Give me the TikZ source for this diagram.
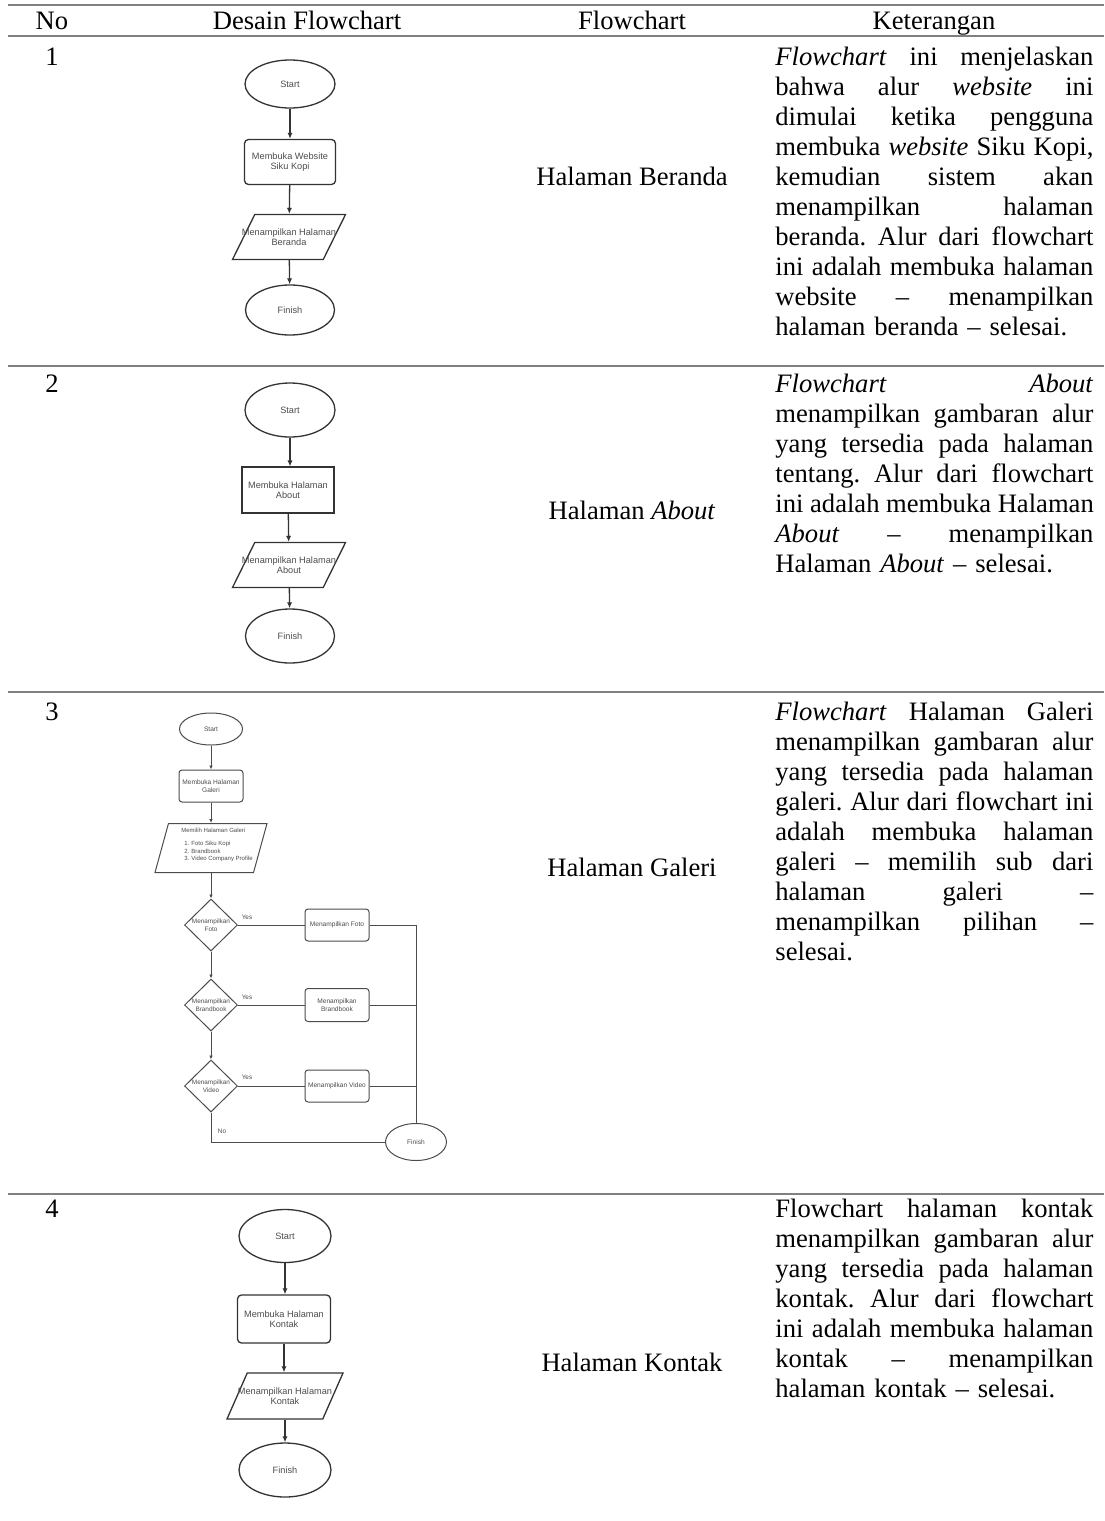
\documentclass[tikz,border=0pt]{standalone}
\usepackage{fontspec}
\setmainfont{Liberation Serif}
\newfontfamily\fcfont{Liberation Sans}
\usetikzlibrary{shapes.geometric,arrows.meta}
\newcommand\jline[1]{\makebox[159pt][s]{\spaceskip=0.25em plus 1fil\relax\xspaceskip=0.25em plus 1fil\relax #1}}
\newcommand\ketfont{\fontsize{13.3}{15}\selectfont\frenchspacing}
\tikzset{
  tbl/.style={font=\fontsize{13.3}{15}\selectfont, inner sep=0},
  ket/.style={font=\ketfont, inner sep=0, anchor=base west, text width=159pt, align=left},
  hrule/.style={line width=1pt, draw=black!50},
  fc/.style={draw=black!80, line width=0.65pt, align=center, inner sep=0,
    font=\fcfont\fontsize{4.6}{5.1}\selectfont, text=black!70},
  fcs/.style={draw=black!70, line width=0.5pt, align=center, inner sep=0,
    font=\fcfont\fontsize{3.3}{3.75}\selectfont, text=black!70},
  ftxt/.style={align=center, inner sep=0, font=\fcfont\fontsize{4.6}{5.1}\selectfont, text=black!70},
  ftxts/.style={align=center, inner sep=0, font=\fcfont\fontsize{3.2}{3.75}\selectfont, text=black!70},
  term/.style={ellipse},
  proc/.style={rectangle, rounded corners=2pt},
  io/.style={trapezium, trapezium left angle=72, trapezium right angle=108, trapezium stretches=true, inner sep=1pt},
  arr/.style={draw=black!80, line width=0.65pt, -{Latex[length=3pt,width=2.6pt]}},
  arrs/.style={draw=black!70, line width=0.5pt, -{Latex[length=2pt,width=1.8pt]}},
  lns/.style={draw=black!70, line width=0.5pt},
}
\begin{document}
\begin{tikzpicture}[x=0.5pt,y=-0.5pt]
\useasboundingbox (0,0) rectangle (1104,1521);
% table rules
\draw[hrule] (8,5) -- (1104,5);
\draw[hrule] (8,36) -- (1104,36);
\draw[hrule] (8,366) -- (1104,366);
\draw[hrule] (8,692) -- (1104,692);
\draw[hrule] (8,1194) -- (1104,1194);
% header
\node[tbl, anchor=base] (hno) at (52,29) {No};
\node[tbl, anchor=base] (hdes) at (307,29) {Desain Flowchart};
\node[tbl, anchor=base] (hfc) at (632,29) {Flowchart};
\node[tbl, anchor=base] (hket) at (934,29) {Keterangan};
% numbers
\node[tbl, anchor=base] (n1) at (52,65) {1};
\node[tbl, anchor=base] (n2) at (52,392) {2};
\node[tbl, anchor=base] (n3) at (52,720) {3};
\node[tbl, anchor=base] (n4) at (52,1217) {4};
% middle column
\node[tbl, anchor=base] (m1) at (632,185) {Halaman Beranda};
\node[tbl, anchor=base] (m2) at (632,519) {Halaman \textit{About}};
\node[tbl, anchor=base] (m3) at (632,876) {Halaman Galeri};
\node[tbl, anchor=base] (m4) at (632,1371) {Halaman Kontak};
% keterangan
\node[ket] (k1) at (775,65) {\jline{\textit{Flowchart} ini menjelaskan}\\
\jline{bahwa alur \textit{website} ini}\\
\jline{dimulai ketika pengguna}\\
\jline{membuka \textit{website} Siku Kopi,}\\
\jline{kemudian sistem akan}\\
\jline{menampilkan halaman}\\
\jline{beranda. Alur dari flowchart}\\
\jline{ini adalah membuka halaman}\\
\jline{website – menampilkan}\\
halaman beranda – selesai.};
\node[ket] (k2) at (775,392) {\jline{\textit{Flowchart} \textit{About}}\\
\jline{menampilkan gambaran alur}\\
\jline{yang tersedia pada halaman}\\
\jline{tentang. Alur dari flowchart}\\
\jline{ini adalah membuka Halaman}\\
\jline{\textit{About} – menampilkan}\\
Halaman \textit{About} – selesai.};
\node[ket] (k3) at (775,720) {\jline{\textit{Flowchart} Halaman Galeri}\\
\jline{menampilkan gambaran alur}\\
\jline{yang tersedia pada halaman}\\
\jline{galeri. Alur dari flowchart ini}\\
\jline{adalah membuka halaman}\\
\jline{galeri – memilih sub dari}\\
\jline{halaman galeri –}\\
\jline{menampilkan pilihan –}\\
selesai.};
\node[ket] (k4) at (775,1217) {\jline{Flowchart halaman kontak}\\
\jline{menampilkan gambaran alur}\\
\jline{yang tersedia pada halaman}\\
\jline{kontak. Alur dari flowchart}\\
\jline{ini adalah membuka halaman}\\
\jline{kontak – menampilkan}\\
halaman kontak – selesai.};

% ---------- flowchart 1
\node[fc, term, minimum width=45pt, minimum height=24pt] (s1) at (290,84) {Start};
\node[fc, proc, minimum width=45.5pt, minimum height=22.5pt] (r1) at (290,162) {Membuka Website\\Siku Kopi};
\node[fc, io, minimum width=56.5pt, minimum height=22.5pt] (p1) at (289,237) {};
\node[ftxt] (p1t) at (p1.center) {Menampilkan Halaman\\Beranda};
\node[fc, term, minimum width=44.5pt, minimum height=25pt] (f1) at (290,310) {Finish};
\draw[arr] (s1) -- (r1);
\draw[arr] (r1) -- (p1);
\draw[arr] (p1) -- (f1);

% ---------- flowchart 2
\node[fc, term, minimum width=45pt, minimum height=27pt] (s2) at (290,410) {Start};
\node[fc, rectangle, line width=0.55pt, minimum width=46pt, minimum height=23pt] (r2) at (288,490) {Membuka Halaman\\About};
\node[fc, io, minimum width=56.5pt, minimum height=22.5pt] (p2) at (289,565) {};
\node[ftxt] (p2t) at (p2.center) {Menampilkan Halaman\\About};
\node[fc, term, minimum width=44.5pt, minimum height=27pt] (f2) at (290,636) {Finish};
\draw[arr] (s2) -- (s2 |- r2.north);
\draw[arr] (r2) -- (p2);
\draw[arr] (p2) -- (f2);

% ---------- flowchart 3
\node[fcs, term, minimum width=31.5pt, minimum height=16pt] (s3) at (211,729) {Start};
\node[fcs, proc, rounded corners=1.5pt, minimum width=32pt, minimum height=16pt] (r3) at (211,786) {Membuka Halaman\\Galeri};
\node[fcs, trapezium, trapezium left angle=81, trapezium right angle=99, trapezium stretches=true, inner sep=1pt, minimum width=56pt, minimum height=24.5pt] (p3) at (211,848) {};
\node[ftxts, align=left, font=\fcfont\fontsize{3.0}{3.75}\selectfont] (p3t) at (217,845) {Memilih Halaman Galeri\\[3pt]
\hspace*{1.5pt}1. Foto Siku Kopi\\\hspace*{1.5pt}2. Brandbook\\\hspace*{1.5pt}3. Video Company Profile};
\node[fcs, diamond, aspect=1, inner sep=1pt, minimum width=26.5pt, minimum height=26pt] (d1) at (211,925) {};
\node[ftxts] (d1t) at (d1.center) {Menampilkan\\Foto};
\node[fcs, diamond, aspect=1, inner sep=1pt, minimum width=26.5pt, minimum height=26pt] (d2) at (211,1005) {};
\node[ftxts] (d2t) at (d2.center) {Menampilkan\\Brandbook};
\node[fcs, diamond, aspect=1, inner sep=1pt, minimum width=26.5pt, minimum height=26pt] (d3) at (211,1086) {};
\node[ftxts] (d3t) at (d3.center) {Menampilkan\\Video};
\node[fcs, proc, rounded corners=1.5pt, minimum width=32pt, minimum height=16pt] (q1) at (337,925) {Menampilkan Foto};
\node[fcs, proc, rounded corners=1.5pt, minimum width=32pt, minimum height=16.5pt] (q2) at (337,1005) {Menampilkan\\Brandbook};
\node[fcs, proc, rounded corners=1.5pt, minimum width=32pt, minimum height=16pt] (q3) at (337,1086) {Menampilkan Video};
\node[fcs, term, minimum width=30.5pt, minimum height=18.5pt] (f3) at (416,1142) {Finish};
\node[ftxts] (y1) at (247,917) {Yes};
\node[ftxts] (y2) at (247,997) {Yes};
\node[ftxts] (y3) at (247,1077) {Yes};
\node[ftxts] (no) at (222,1131) {No};
\coordinate (j1) at (f3.north |- q1.east);
\coordinate (j2) at (f3.north |- q2.east);
\coordinate (j3) at (f3.north |- q3.east);
\coordinate (nb) at (d3.south |- f3.west);
\draw[arrs] (s3) -- (r3);
\draw[arrs] (r3) -- (p3);
\draw[arrs] (p3) -- (d1);
\draw[arrs] (d1) -- (d2);
\draw[arrs] (d2) -- (d3);
\draw[lns] (d1) -- (q1);
\draw[lns] (d2) -- (q2);
\draw[lns] (d3) -- (q3);
\draw[lns] (q1.east) -- (j1) -- (f3.north);
\draw[lns] (q2.east) -- (j2);
\draw[lns] (q3.east) -- (j3);
\draw[lns] (d3.south) -- (nb) -- (f3.west);

% ---------- flowchart 4
\node[fc, term, minimum width=46pt, minimum height=26.5pt] (s4) at (285,1236) {Start};
\node[fc, proc, minimum width=46.5pt, minimum height=24pt] (r4) at (284,1319) {Membuka Halaman\\Kontak};
\node[fc, io, trapezium left angle=75, trapezium right angle=105, minimum width=58pt, minimum height=23pt] (p4) at (285,1396) {};
\node[ftxt] (p4t) at (p4.center) {Menampilkan Halaman\\Kontak};
\node[fc, term, minimum width=46pt, minimum height=27pt] (f4) at (285,1470) {Finish};
\draw[arr] (s4) -- (s4 |- r4.north);
\draw[arr] (r4) -- (r4 |- p4.north);
\draw[arr] (p4) -- (p4 |- f4.north);
\end{tikzpicture}
\end{document}
